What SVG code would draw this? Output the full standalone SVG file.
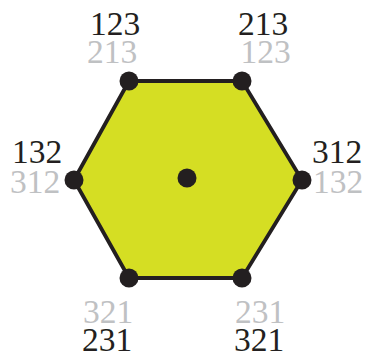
<svg xmlns="http://www.w3.org/2000/svg" width="367" height="353" viewBox="0 0 367 353">
<style>
.t{font-family:"Liberation Serif","Times New Roman",serif;font-size:33.5px;text-anchor:middle}
.k{fill:#231f20}
.g{fill:#bfc1c3}
.d{fill:#231f20}
</style>
<rect width="367" height="353" fill="#ffffff"/>
<g id="connectors">
<polygon points="129,81 242,81 302,180 242,278 129,278 74,180" fill="#d5de23" stroke="#231f20" stroke-width="3.8" stroke-linejoin="round"/>
</g>
<g id="center"><circle class="d" cx="187" cy="178" r="9.5"/></g>
<g id="v123"><circle class="d" cx="129" cy="81" r="9.5"/><text class="t k" x="115" y="34.5">123</text><text class="t g" x="112" y="63">213</text></g>
<g id="v213"><circle class="d" cx="242" cy="81" r="9.5"/><text class="t k" x="263" y="34.5">213</text><text class="t g" x="265.5" y="63">123</text></g>
<g id="v132"><circle class="d" cx="74" cy="180" r="9.5"/><text class="t k" x="37" y="163">132</text><text class="t g" x="35" y="193">312</text></g>
<g id="v312"><circle class="d" cx="302" cy="180" r="9.5"/><text class="t k" x="337" y="163">312</text><text class="t g" x="338" y="193">132</text></g>
<g id="v231"><circle class="d" cx="129" cy="278" r="9.5"/><text class="t g" x="108" y="323">321</text><text class="t k" x="107" y="350.5">231</text></g>
<g id="v321"><circle class="d" cx="242" cy="278" r="9.5"/><text class="t g" x="260" y="323">231</text><text class="t k" x="259" y="350.5">321</text></g>
</svg>
